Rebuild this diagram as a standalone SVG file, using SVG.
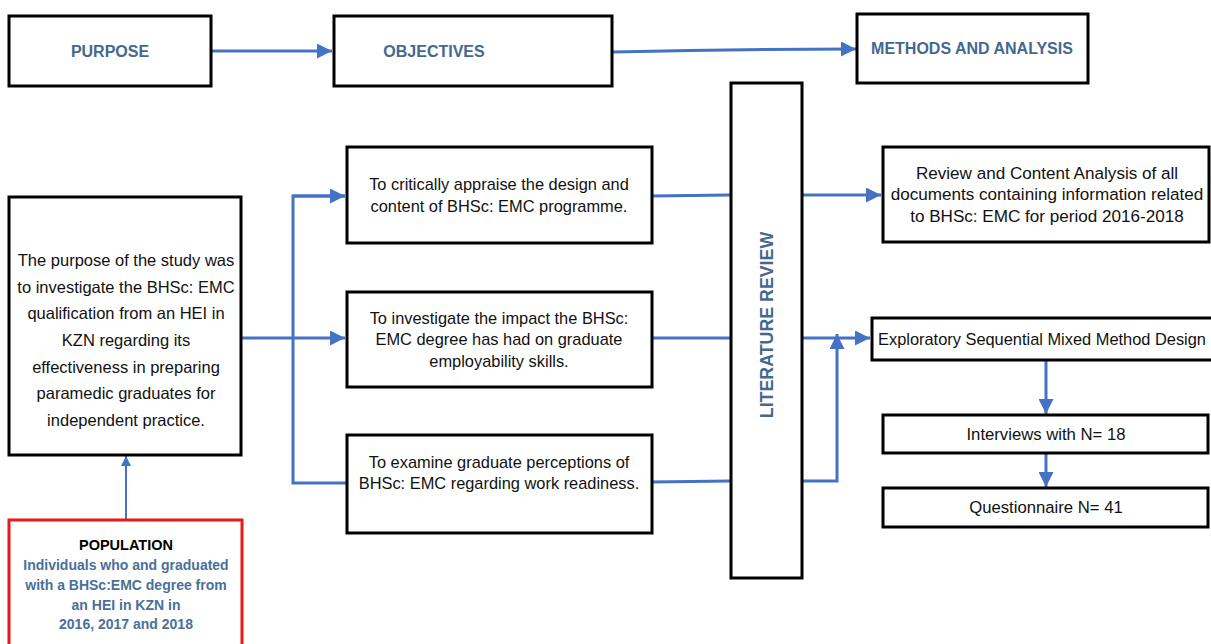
<svg xmlns="http://www.w3.org/2000/svg" width="1211" height="644" viewBox="0 0 1211 644">
<style>
.box{fill:#fff;stroke:#000;stroke-width:3}
.red{fill:#fff;stroke:#e41b1b;stroke-width:3}
.hd{font-family:"Liberation Sans",Arial,sans-serif;font-weight:bold;font-size:16px;fill:#44688f;text-anchor:middle;dominant-baseline:central}
.tx{font-family:"Liberation Sans",Arial,sans-serif;font-size:16.4px;fill:#111;text-anchor:middle;dominant-baseline:central}
.tl{font-size:16.5px}
.tr{font-size:17.1px}
.ts{font-size:16.7px}
.pb{font-family:"Liberation Sans",Arial,sans-serif;font-weight:bold;font-size:14px;fill:#4a7099;text-anchor:middle;dominant-baseline:central}
.pk{font-family:"Liberation Sans",Arial,sans-serif;font-weight:bold;font-size:14.5px;fill:#000;text-anchor:middle;dominant-baseline:central}
.ln{fill:none;stroke:#4472c4;stroke-width:3}
.thin{fill:none;stroke:#4472c4;stroke-width:2}
</style>
<defs>
<marker id="ah" viewBox="0 0 10 10" refX="10" refY="5" markerWidth="5" markerHeight="5" markerUnits="strokeWidth" orient="auto"><path d="M0,0 L10,5 L0,10 z" fill="#4472c4"/></marker>
<marker id="ahs" viewBox="0 0 10 10" refX="10" refY="5" markerWidth="5" markerHeight="5" markerUnits="strokeWidth" orient="auto"><path d="M0,0 L10,5 L0,10 z" fill="#4472c4"/></marker>
</defs>
<rect width="1211" height="644" fill="#fff"/>
<g id="connectors">
<path class="ln" d="M212,51 L332,51" marker-end="url(#ah)"/>
<path class="ln" d="M613,52 C700,50 780,49 856,49" marker-end="url(#ah)"/>
<path class="ln" d="M242,338 L345,338" marker-end="url(#ah)"/>
<path class="ln" d="M345,196 L293,196 L293,483 L347,483"/>
<path class="ln" d="M293,196 L345,196" marker-end="url(#ah)"/>
<path class="ln" d="M652,196 L730,195"/>
<path class="ln" d="M652,338 L730,338"/>
<path class="ln" d="M652,482 L730,481"/>
<path class="ln" d="M802,195 L881,195" marker-end="url(#ah)"/>
<path class="ln" d="M802,338 L870,338" marker-end="url(#ah)"/>
<path class="ln" d="M802,481 L837,481 L837,334" marker-end="url(#ah)"/>
<path class="ln" d="M1046,360 L1046,414" marker-end="url(#ah)"/>
<path class="ln" d="M1046,454 L1046,487" marker-end="url(#ah)"/>
<path class="thin" d="M126,520 L126,456" marker-end="url(#ahs)"/>
</g>
<g id="purpose">
<rect class="box" x="9" y="16" width="202" height="70"/>
<text class="hd" x="110" y="51">PURPOSE</text>
</g>
<g id="objectives">
<rect class="box" x="334" y="16" width="278" height="70"/>
<text class="hd" x="434" y="51">OBJECTIVES</text>
</g>
<g id="methods">
<rect class="box" x="857" y="14" width="231" height="69"/>
<text class="hd" x="972" y="48">METHODS AND ANALYSIS</text>
</g>
<g id="purpose-statement">
<rect class="box" x="9" y="197" width="232" height="258"/>
<text class="tx tl" x="126" y="260">The purpose of the study was</text>
<text class="tx tl" x="126" y="287">to investigate the BHSc: EMC</text>
<text class="tx tl" x="126" y="313">qualification from an HEI in</text>
<text class="tx tl" x="126" y="340">KZN regarding its</text>
<text class="tx tl" x="126" y="367">effectiveness in preparing</text>
<text class="tx tl" x="126" y="393">paramedic graduates for</text>
<text class="tx tl" x="126" y="420">independent practice.</text>
</g>
<g id="population">
<rect class="red" x="9" y="520" width="233" height="130"/>
<text class="pk" x="126" y="545">POPULATION</text>
<text class="pb" x="126" y="565">Individuals who and graduated</text>
<text class="pb" x="126" y="585">with a BHSc:EMC degree from</text>
<text class="pb" x="126" y="605">an HEI in KZN in</text>
<text class="pb" x="126" y="624">2016, 2017 and 2018</text>
</g>
<g id="objective1">
<rect class="box" x="347" y="147" width="305" height="96"/>
<text class="tx" x="499" y="184">To critically appraise the design and</text>
<text class="tx" x="499" y="206">content of BHSc: EMC programme.</text>
</g>
<g id="objective2">
<rect class="box" x="347" y="292" width="305" height="95"/>
<text class="tx" x="499" y="318">To investigate the impact the BHSc:</text>
<text class="tx" x="499" y="339">EMC degree has had on graduate</text>
<text class="tx" x="499" y="361">employability skills.</text>
</g>
<g id="objective3">
<rect class="box" x="347" y="435" width="305" height="98"/>
<text class="tx" x="499" y="462">To examine graduate perceptions of</text>
<text class="tx" x="499" y="483">BHSc: EMC regarding work readiness.</text>
</g>
<g id="literature-review">
<rect class="box" x="731" y="83" width="71" height="495"/>
<text class="hd" style="font-size:17.8px" transform="translate(767,325) rotate(-90)" x="0" y="0">LITERATURE REVIEW</text>
</g>
<g id="review">
<rect class="box" x="883" y="147" width="326" height="95"/>
<text class="tx tr" x="1047" y="173">Review and Content Analysis of all</text>
<text class="tx tr" x="1047" y="194">documents containing information related</text>
<text class="tx tr" x="1047" y="216">to BHSc: EMC for period 2016-2018</text>
</g>
<g id="exploratory">
<rect class="box" x="872" y="318" width="345" height="42"/>
<text class="tx" style="text-anchor:start" x="878" y="339">Exploratory Sequential Mixed Method Design</text>
</g>
<g id="interviews">
<rect class="box" x="883" y="415" width="325" height="38"/>
<text class="tx ts" x="1046" y="434">Interviews with N= 18</text>
</g>
<g id="questionnaire">
<rect class="box" x="883" y="488" width="325" height="39"/>
<text class="tx ts" x="1046" y="507">Questionnaire N= 41</text>
</g>
</svg>
